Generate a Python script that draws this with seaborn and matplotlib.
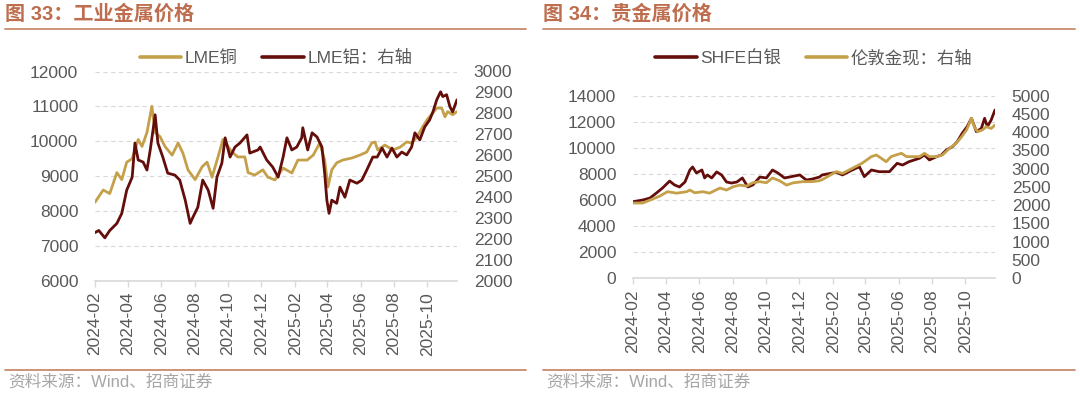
import pandas as pd
import matplotlib.pyplot as plt
import matplotlib.dates as mdates
from matplotlib.lines import Line2D
import seaborn as sns

# === Data ===
# LME copper, left axis of chart 33
cu_dates = ["2024-02-01", "2024-02-16", "2024-02-28", "2024-03-12", "2024-03-21", "2024-03-30",
            "2024-04-09", "2024-04-20", "2024-04-27", "2024-05-06", "2024-05-15", "2024-05-21",
            "2024-05-30", "2024-06-08", "2024-06-21", "2024-07-02", "2024-07-11", "2024-07-20",
            "2024-08-02", "2024-08-15", "2024-08-24", "2024-09-02", "2024-09-13", "2024-09-22",
            "2024-10-08", "2024-10-19", "2024-11-01", "2024-11-07", "2024-11-19", "2024-12-04",
            "2024-12-13", "2024-12-26", "2025-01-10", "2025-01-26", "2025-02-06", "2025-02-23",
            "2025-03-06", "2025-03-18", "2025-03-27", "2025-04-02", "2025-04-09", "2025-04-18",
            "2025-04-29", "2025-05-16", "2025-05-30", "2025-06-12", "2025-06-21", "2025-06-27",
            "2025-07-02", "2025-07-15", "2025-07-30", "2025-08-12", "2025-08-24", "2025-09-02",
            "2025-09-12", "2025-09-21", "2025-09-30", "2025-10-09", "2025-10-18", "2025-10-27",
            "2025-11-02", "2025-11-07", "2025-11-16", "2025-11-24"]
cu_vals = [8250, 8600, 8500, 9100, 8900, 9400,
           9500, 10050, 9850, 10250, 11000, 10250,
           10130, 9850, 9600, 9950, 9650, 9180,
           8900, 9270, 9400, 8970, 9550, 10050,
           9700, 9550, 9550, 9100, 9030, 9180,
           8970, 8890, 9230, 9090, 9460, 9460,
           9600, 9950, 9460, 8690, 9180, 9380,
           9460, 9520, 9600, 9690, 9950, 9980,
           9750, 9890, 9750, 9830, 9980, 9950,
           10120, 10380, 10610, 10780, 10950, 10950,
           10700, 10850, 10760, 10850]

# LME aluminium, right axis of chart 33
al_dates = ["2024-02-01", "2024-02-08", "2024-02-19", "2024-02-28", "2024-03-12", "2024-03-21",
            "2024-03-30", "2024-04-09", "2024-04-14", "2024-04-20", "2024-04-29", "2024-05-06",
            "2024-05-12", "2024-05-21", "2024-05-26", "2024-06-04", "2024-06-13", "2024-06-26",
            "2024-07-05", "2024-07-15", "2024-07-24", "2024-07-29", "2024-08-07", "2024-08-16",
            "2024-08-26", "2024-09-04", "2024-09-11", "2024-09-20", "2024-09-26", "2024-10-05",
            "2024-10-14", "2024-10-23", "2024-11-05", "2024-11-10", "2024-11-25", "2024-11-29",
            "2024-12-11", "2024-12-22", "2025-01-01", "2025-01-10", "2025-01-17", "2025-01-26",
            "2025-02-04", "2025-02-13", "2025-02-15", "2025-02-24", "2025-03-04", "2025-03-13",
            "2025-03-22", "2025-03-27", "2025-03-31", "2025-04-04", "2025-04-09", "2025-04-18",
            "2025-04-24", "2025-05-03", "2025-05-12", "2025-05-25", "2025-06-03", "2025-06-12",
            "2025-06-23", "2025-07-01", "2025-07-10", "2025-07-19", "2025-07-28", "2025-08-06",
            "2025-08-15", "2025-08-24", "2025-09-02", "2025-09-08", "2025-09-17", "2025-09-26",
            "2025-10-05", "2025-10-11", "2025-10-18", "2025-10-25", "2025-10-29", "2025-11-05",
            "2025-11-11", "2025-11-16", "2025-11-24"]
al_vals = [2230, 2240, 2205, 2240, 2274, 2322,
           2433, 2495, 2658, 2577, 2567, 2529,
           2625, 2793, 2658, 2591, 2514, 2505,
           2481, 2385, 2274, 2303, 2351, 2481,
           2433, 2346, 2495, 2562, 2683, 2591,
           2639, 2658, 2697, 2610, 2625, 2639,
           2577, 2543, 2495, 2591, 2683, 2625,
           2639, 2683, 2731, 2625, 2707, 2687,
           2639, 2514, 2385, 2322, 2385, 2370,
           2447, 2399, 2481, 2466, 2481, 2529,
           2591, 2591, 2634, 2591, 2634, 2591,
           2615, 2601, 2639, 2707, 2673, 2735,
           2769, 2807, 2865, 2903, 2880, 2889,
           2832, 2807, 2865]

# SHFE silver, left axis of chart 34
ag_dates = ["2024-02-01", "2024-02-19", "2024-03-03", "2024-03-15", "2024-03-26", "2024-04-08",
            "2024-04-17", "2024-04-26", "2024-05-06", "2024-05-15", "2024-05-20", "2024-05-27",
            "2024-06-06", "2024-06-11", "2024-06-16", "2024-06-24", "2024-07-03", "2024-07-12",
            "2024-07-21", "2024-07-30", "2024-08-09", "2024-08-19", "2024-08-29", "2024-09-07",
            "2024-09-20", "2024-10-02", "2024-10-13", "2024-10-23", "2024-11-04", "2024-11-13",
            "2024-12-02", "2024-12-14", "2024-12-25", "2025-01-07", "2025-01-12", "2025-02-07",
            "2025-02-18", "2025-03-08", "2025-03-21", "2025-03-30", "2025-04-12", "2025-04-26",
            "2025-05-15", "2025-05-29", "2025-06-08", "2025-06-20", "2025-07-09", "2025-07-18",
            "2025-07-27", "2025-08-09", "2025-08-18", "2025-08-27", "2025-09-07", "2025-09-16",
            "2025-09-25", "2025-10-04", "2025-10-12", "2025-10-21", "2025-10-30", "2025-11-05",
            "2025-11-10", "2025-11-17", "2025-11-24"]
ag_vals = [5870, 6000, 6150, 6540, 6920, 7450,
           7150, 7000, 7380, 8300, 8530, 8070,
           8300, 7690, 7920, 7690, 8150, 7920,
           7380, 7300, 7380, 7690, 7000, 7150,
           7760, 7690, 8300, 8070, 7690, 7760,
           7920, 7530, 7610, 7760, 7920, 8120,
           7920, 8300, 8550, 7790, 8300, 8170,
           8170, 8810, 8680, 8940, 9200, 9450,
           9070, 9320, 9450, 9830, 10080, 10470,
           11110, 11620, 12260, 11230, 11490, 12260,
           11620, 12130, 12900]

# London spot gold, right axis of chart 34
au_dates = ["2024-02-01", "2024-02-19", "2024-03-03", "2024-03-21", "2024-04-04", "2024-04-21",
            "2024-05-09", "2024-05-15", "2024-05-24", "2024-06-08", "2024-06-20", "2024-07-09",
            "2024-07-21", "2024-08-02", "2024-08-14", "2024-08-27", "2024-09-07", "2024-09-20",
            "2024-10-02", "2024-10-13", "2024-10-26", "2024-11-08", "2024-11-19", "2024-12-07",
            "2024-12-25", "2025-01-07", "2025-01-12", "2025-02-07", "2025-02-18", "2025-03-08",
            "2025-03-26", "2025-04-12", "2025-04-21", "2025-04-30", "2025-05-09", "2025-05-18",
            "2025-05-27", "2025-06-06", "2025-06-15", "2025-06-26", "2025-07-09", "2025-07-18",
            "2025-07-27", "2025-08-09", "2025-08-20", "2025-09-02", "2025-09-14", "2025-09-24",
            "2025-10-03", "2025-10-12", "2025-10-17", "2025-10-23", "2025-11-01", "2025-11-08",
            "2025-11-17", "2025-11-24"]
au_vals = [2060, 2060, 2140, 2250, 2370, 2330,
           2370, 2415, 2340, 2370, 2330, 2470,
           2415, 2505, 2550, 2525, 2615, 2645,
           2615, 2745, 2670, 2550, 2610, 2645,
           2645, 2670, 2700, 2920, 2870, 3010,
           3150, 3330, 3375, 3285, 3190, 3330,
           3375, 3420, 3330, 3330, 3330, 3420,
           3330, 3330, 3375, 3560, 3695, 3875,
           4060, 4380, 4150, 4010, 4060, 4150,
           4100, 4195]

x_start, x_end = "2024-02-01", "2025-11-24"

GOLD = "#C4A04A"
DARK = "#640E0C"
GRID = "#D9D9D9"
TXT = "#595959"
TITLE_C = "#BE6E4E"
W, H = 1080, 399

sns.set_theme(style="white")
plt.rcParams["font.family"] = ["Liberation Sans", "Noto Sans CJK SC", "DejaVu Sans"]
plt.rcParams["axes.unicode_minus"] = False

fig = plt.figure(figsize=(W / 100, H / 100), dpi=100)


def px_box(x0, y0, x1, y1):
    return [x0 / W, 1 - y1 / H, (x1 - x0) / W, (y1 - y0) / H]


def draw_panel(rect, left_s, right_s, ylim_l, yticks_l, ylim_r, yticks_r):
    ax = fig.add_axes(rect)
    ax2 = ax.twinx()
    ld, lv, lc, ll = left_s
    rd, rv, rc, rl = right_s
    sns.lineplot(x=pd.to_datetime(ld), y=lv, ax=ax, color=lc, linewidth=2.0, label=ll, legend=False)
    sns.lineplot(x=pd.to_datetime(rd), y=rv, ax=ax2, color=rc, linewidth=2.0, label=rl, legend=False)

    ax.set_xlim(pd.Timestamp(x_start), pd.Timestamp(x_end))
    ax.set_ylim(*ylim_l)
    ax.set_yticks(yticks_l)
    ax2.set_ylim(*ylim_r)
    ax2.set_yticks(yticks_r)
    ax.xaxis.set_major_locator(mdates.MonthLocator(bymonth=[2, 4, 6, 8, 10, 12]))
    ax.xaxis.set_major_formatter(mdates.DateFormatter("%Y-%m"))
    ax.set_xlabel("")
    ax.set_ylabel("")
    ax2.set_ylabel("")

    ax.grid(axis="y", color=GRID, linestyle=(0, (4, 3)), linewidth=0.8)
    ax.grid(axis="x", visible=False)
    ax2.grid(False)
    for a in (ax, ax2):
        for s in ("top", "left", "right"):
            a.spines[s].set_visible(False)
    ax2.spines["bottom"].set_visible(False)
    ax.spines["bottom"].set_color(GRID)
    ax.spines["bottom"].set_linewidth(1.2)

    ax.tick_params(axis="x", bottom=True, direction="out", length=4, width=1, color=GRID,
                   labelsize=12.5, labelcolor=TXT, rotation=90, pad=4)
    ax.tick_params(axis="y", left=False, length=0, labelsize=12.5, labelcolor=TXT, pad=12)
    ax2.tick_params(axis="y", right=False, length=0, labelsize=12.5, labelcolor=TXT, pad=12)

    h1, l1 = ax.get_legend_handles_labels()
    h2, l2 = ax2.get_legend_handles_labels()
    cx = rect[0] + rect[2] / 2
    leg = fig.legend(h1 + h2, l1 + l2, loc="center", bbox_to_anchor=(cx, 1 - 58 / H), ncol=2,
                     frameon=False, fontsize=12.5, handlelength=2.4, handletextpad=0.2,
                     columnspacing=1.4)
    for line in leg.get_lines():
        line.set_linewidth(2.6)
    for t in leg.get_texts():
        t.set_color(TXT)
    return ax, ax2


# === Chart 33: industrial metals ===
draw_panel(px_box(95, 71.5, 457, 280.7),
           (cu_dates, cu_vals, GOLD, "LME铜"),
           (al_dates, al_vals, DARK, "LME铝：右轴"),
           (6000, 12000), list(range(6000, 12001, 1000)),
           (2000, 3000), list(range(2000, 3001, 100)))

# === Chart 34: precious metals ===
draw_panel(px_box(633, 95.6, 995, 278.3),
           (ag_dates, ag_vals, DARK, "SHFE白银"),
           (au_dates, au_vals, GOLD, "伦敦金现：右轴"),
           (0, 14000), list(range(0, 14001, 2000)),
           (0, 5000), list(range(0, 5001, 500)))

# titles, rules and sources
for x0, x1, title in [(5, 526, "图 33：工业金属价格"), (543, 1075, "图 34：贵金属价格")]:
    fig.text(x0 / W, 1 - 14 / H, title, fontsize=14.5, fontweight="bold", color=TITLE_C,
             va="center", ha="left")
    fig.add_artist(Line2D([x0 / W, x1 / W], [1 - 29 / H] * 2, color="#C98A70", linewidth=1.3))
    fig.add_artist(Line2D([x0 / W, x1 / W], [1 - 370 / H] * 2, color="#C98A70", linewidth=1.3))
    fig.text((x0 + 3) / W, 1 - 382 / H, "资料来源：Wind、招商证券", fontsize=12, color="#A6A6A6",
             va="center", ha="left")

fig.savefig("out.png", dpi=100)
